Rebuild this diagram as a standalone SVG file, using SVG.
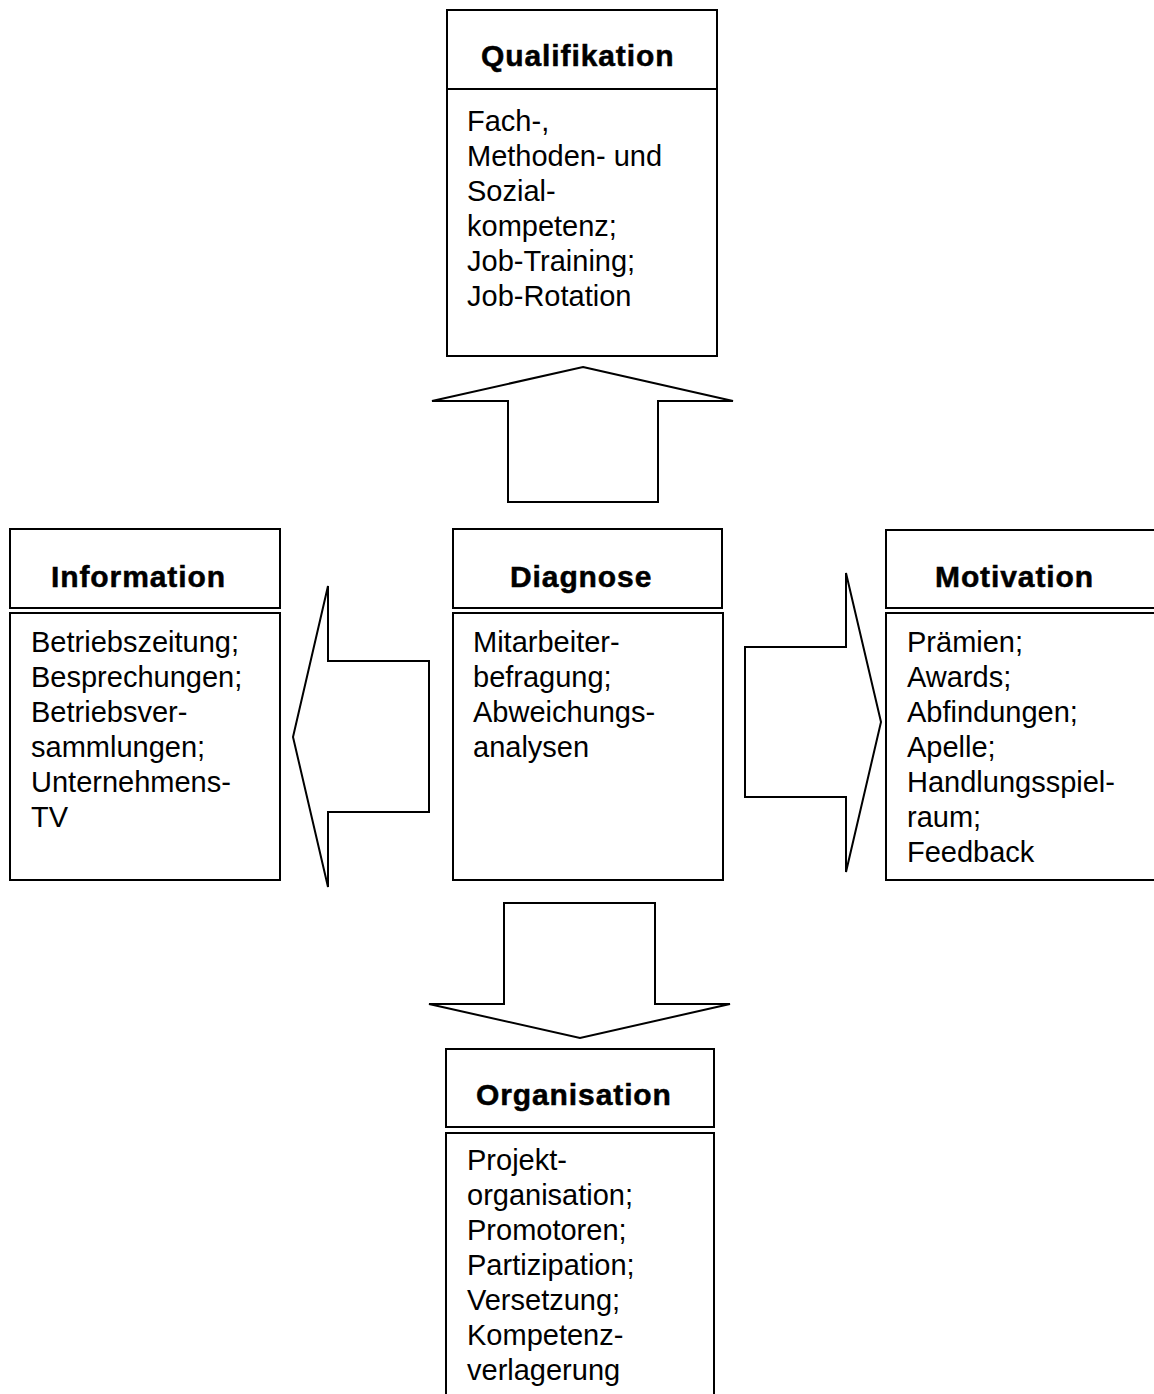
<svg xmlns="http://www.w3.org/2000/svg" width="1154" height="1394" viewBox="0 0 1154 1394">
  <style>
    .box { fill: #ffffff; stroke: #000000; stroke-width: 2; }
    .arrow { fill: #ffffff; stroke: #000000; stroke-width: 2; stroke-linejoin: miter; }
    .head { font-family: "Liberation Sans", Arial, sans-serif; font-weight: bold; font-size: 30px; letter-spacing: 0.9px; fill: #000000; stroke: #000000; stroke-width: 0.5px; }
    .body { font-family: "Liberation Sans", Arial, sans-serif; font-size: 29px; fill: #000000; }
  </style>
  <rect width="1154" height="1394" fill="#ffffff"/>

  <!-- block arrows from the centre outwards -->
  <g id="connectors">
    <polygon class="arrow" points="583,367 733,401 658,401 658,502 508,502 508,401 432,401"/>
    <polygon class="arrow" points="293,737 328,586 328,661 429,661 429,812 328,812 328,887"/>
    <polygon class="arrow" points="881,722 846,573 846,647 745,647 745,797 846,797 846,872"/>
    <polygon class="arrow" points="504,903 655,903 655,1004 730,1004 580,1038 429,1004 504,1004"/>
  </g>

  <g id="qualifikation">
    <rect class="box" x="447" y="10" width="270" height="346"/>
    <line x1="447" y1="89" x2="717" y2="89" stroke="#000" stroke-width="2"/>
    <text class="head" x="481" y="66">Qualifikation</text>
    <text class="body" x="467">
      <tspan x="467" y="130.5">Fach-,</tspan>
      <tspan x="467" y="165.5">Methoden- und</tspan>
      <tspan x="467" y="200.5">Sozial-</tspan>
      <tspan x="467" y="235.5">kompetenz;</tspan>
      <tspan x="467" y="270.5">Job-Training;</tspan>
      <tspan x="467" y="305.5">Job-Rotation</tspan>
    </text>
  </g>

  <g id="information">
    <rect class="box" x="10" y="529" width="270" height="79"/>
    <rect class="box" x="10" y="613" width="270" height="267"/>
    <text class="head" x="51" y="587">Information</text>
    <text class="body">
      <tspan x="31" y="652">Betriebszeitung;</tspan>
      <tspan x="31" y="687">Besprechungen;</tspan>
      <tspan x="31" y="722">Betriebsver-</tspan>
      <tspan x="31" y="757">sammlungen;</tspan>
      <tspan x="31" y="792">Unternehmens-</tspan>
      <tspan x="31" y="827">TV</tspan>
    </text>
  </g>

  <g id="diagnose">
    <rect class="box" x="453" y="529" width="269" height="79"/>
    <rect class="box" x="453" y="613" width="270" height="267"/>
    <text class="head" x="510" y="587">Diagnose</text>
    <text class="body">
      <tspan x="473" y="652">Mitarbeiter-</tspan>
      <tspan x="473" y="687">befragung;</tspan>
      <tspan x="473" y="722">Abweichungs-</tspan>
      <tspan x="473" y="757">analysen</tspan>
    </text>
  </g>

  <g id="motivation">
    <rect class="box" x="886" y="530" width="280" height="78"/>
    <rect class="box" x="886" y="613" width="280" height="267"/>
    <text class="head" x="935" y="587">Motivation</text>
    <text class="body">
      <tspan x="907" y="652">Prämien;</tspan>
      <tspan x="907" y="687">Awards;</tspan>
      <tspan x="907" y="722">Abfindungen;</tspan>
      <tspan x="907" y="757">Apelle;</tspan>
      <tspan x="907" y="792">Handlungsspiel-</tspan>
      <tspan x="907" y="827">raum;</tspan>
      <tspan x="907" y="862">Feedback</tspan>
    </text>
  </g>

  <g id="organisation">
    <rect class="box" x="446" y="1049" width="268" height="78"/>
    <rect class="box" x="446" y="1133" width="268" height="280"/>
    <text class="head" x="476" y="1105">Organisation</text>
    <text class="body">
      <tspan x="467" y="1170">Projekt-</tspan>
      <tspan x="467" y="1205">organisation;</tspan>
      <tspan x="467" y="1240">Promotoren;</tspan>
      <tspan x="467" y="1275">Partizipation;</tspan>
      <tspan x="467" y="1310">Versetzung;</tspan>
      <tspan x="467" y="1345">Kompetenz-</tspan>
      <tspan x="467" y="1380">verlagerung</tspan>
    </text>
  </g>
</svg>
